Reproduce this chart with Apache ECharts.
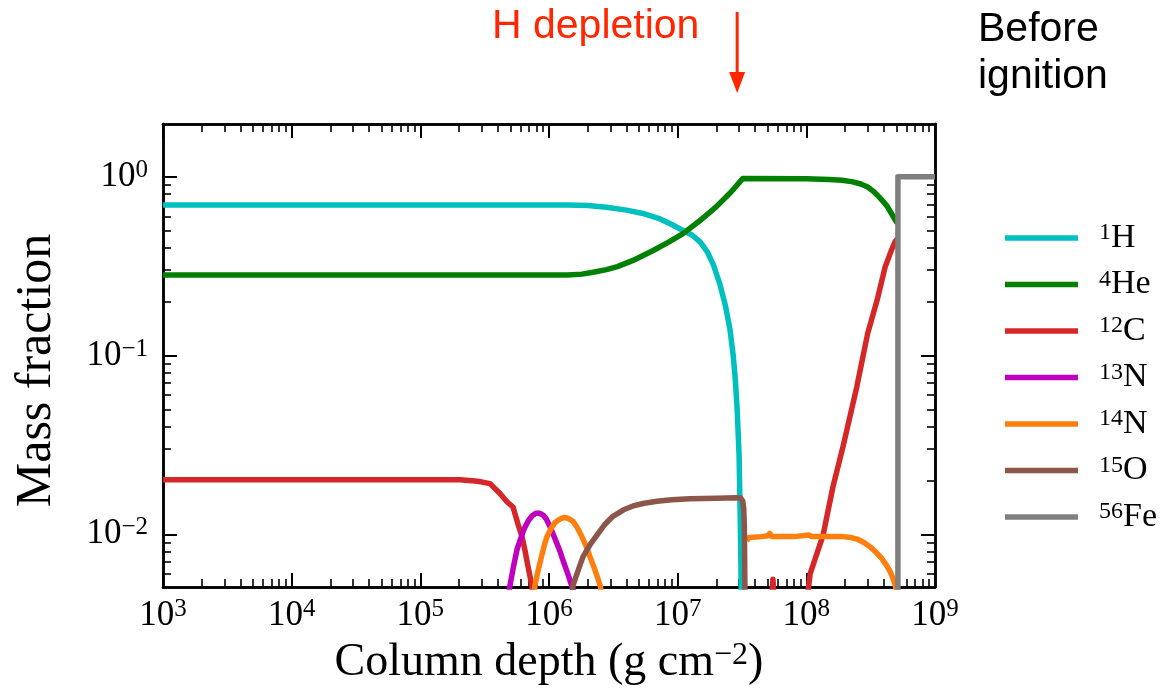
<!DOCTYPE html>
<html>
<head>
<meta charset="utf-8">
<script src="https://cdn.jsdelivr.net/npm/echarts@6/dist/echarts.min.js"></script>
<style>html,body{margin:0;padding:0;background:#fff;}#c{width:1175px;height:695px;}</style>
</head>
<body>
<div id="c"></div>
<script>
// ---------- data (column depth in g cm^-2, mass fraction) ----------
const X_MIN = 1e3, X_MAX = 1e9;
const Y_MIN = 0.00507, Y_MAX = 1.97;
const xTickExponents = [3, 4, 5, 6, 7, 8, 9];
const yTickExponents = [-2, -1, 0];

const speciesNames = ['H1', 'He4', 'C12', 'N13', 'N14', 'O15', 'Fe56'];
const speciesMass  = ['1', '4', '12', '13', '14', '15', '56'];
const speciesElem  = ['H', 'He', 'C', 'N', 'N', 'O', 'Fe'];

const H1 = [[1e3,0.695],[1.4e6,0.695],[2.0e6,0.69],[2.8e6,0.675],[4.0e6,0.65],[5.5e6,0.62],[7.3e6,0.58],
  [9e6,0.54],[1.1e7,0.50],[1.3e7,0.47],[1.5e7,0.43],[1.7e7,0.38],[1.9e7,0.32],[2.13e7,0.25],[2.35e7,0.19],
  [2.55e7,0.14],[2.7e7,0.1],[2.8e7,0.075],[2.9e7,0.05],[3.0e7,0.028],[3.05e7,0.015],[3.1e7,0.007],[3.13e7,0.004]];
const He4 = [[1e3,0.282],[1.4e6,0.282],[1.8e6,0.285],[2.2e6,0.292],[2.8e6,0.302],[3.4e6,0.314],[4.5e6,0.34],
  [6.4e6,0.385],[8.5e6,0.43],[1.1e7,0.48],[1.5e7,0.57],[2.0e7,0.68],[2.6e7,0.82],[3.2e7,0.975],
  [1.0e8,0.972],[1.5e8,0.965],[1.9e8,0.955],[2.3e8,0.935],[2.65e8,0.91],[3.0e8,0.875],[3.3e8,0.83],
  [3.55e8,0.79],[3.9e8,0.735],[4.26e8,0.68],[4.6e8,0.62],[4.9e8,0.573],[5.1e8,0.55]];
const C12 = [[1e3,0.0202],[2.04e5,0.0202],[2.8e5,0.0198],[3.48e5,0.0192],[4.16e5,0.0169],[4.71e5,0.0152],
  [5.25e5,0.0142],[5.74e5,0.0114],[6.17e5,0.0097],[6.51e5,0.0081],[6.87e5,0.0066],[7.38e5,0.0051],[7.6e5,0.004],
  [3e7,null],
  [5.35e7,0.004],[5.5e7,0.0056],[5.65e7,0.004],
  [7e7,null],
  [1.0e8,0.004],[1.07e8,0.006],[1.35e8,0.0099],[1.61e8,0.0184],[1.93e8,0.031],[2.47e8,0.067],
  [3.0e8,0.133],[3.55e8,0.204],[4.1e8,0.313],[4.6e8,0.39],[4.9e8,0.433],[5.1e8,0.45]];
const N13 = [[4.7e5,0.004],[4.98e5,0.0052],[5.3e5,0.0066],[5.64e5,0.0082],[6.0e5,0.0094],[6.4e5,0.0107],
  [6.9e5,0.0119],[7.4e5,0.0127],[7.9e5,0.0131],[8.5e5,0.0131],[9.0e5,0.0128],[9.5e5,0.0122],[1.02e6,0.011],
  [1.09e6,0.0098],[1.15e6,0.0089],[1.22e6,0.008],[1.28e6,0.0072],[1.4e6,0.006],[1.51e6,0.0051],[1.7e6,0.004]];
const N14 = [[7.5e5,0.004],[7.78e5,0.0052],[8.2e5,0.0062],[8.7e5,0.0074],[9.2e5,0.0087],[9.65e5,0.0097],
  [1.04e6,0.0108],[1.11e6,0.0116],[1.2e6,0.0121],[1.3e6,0.0124],[1.4e6,0.0123],[1.54e6,0.0118],[1.67e6,0.0108],
  [1.8e6,0.0097],[1.94e6,0.0086],[2.08e6,0.0075],[2.28e6,0.0063],[2.49e6,0.0052],[2.7e6,0.004],
  [1e7,null],
  [3.44e7,0.0092],[3.6e7,0.0096],[4.5e7,0.0097],[5.0e7,0.0098],[5.2e7,0.0101],[5.4e7,0.0097],[8e7,0.0097],
  [1.05e8,0.0099],[1.1e8,0.0097],[1.93e8,0.0097],[2.2e8,0.0096],[2.48e8,0.0094],[2.8e8,0.009],[3.13e8,0.0085],
  [3.5e8,0.0079],[3.87e8,0.0073],[4.2e8,0.0067],[4.47e8,0.0062],[4.7e8,0.0057],[4.9e8,0.0052],[5.1e8,0.0045]];
const O15 = [[1.45e6,0.004],[1.54e6,0.0052],[1.7e6,0.0064],[1.84e6,0.0075],[2.1e6,0.0088],[2.36e6,0.0099],
  [2.7e6,0.0113],[3.14e6,0.0126],[3.8e6,0.0137],[4.5e6,0.0144],[5.5e6,0.0149],[6.91e6,0.0153],[9e6,0.0156],
  [1.25e7,0.0158],[2e7,0.0159],[2.89e7,0.016],[3.1e7,0.0159],[3.2e7,0.0154],[3.26e7,0.014],[3.3e7,0.011],[3.34e7,0.004]];
const Fe56 = [[5.15e8,0.001],[5.15e8,1.0],[1e9,1.0]];

const seriesData = [H1, He4, C12, N13, N14, O15, Fe56];
const H_DEPLETION_DEPTH = 2.9e7;

// ---------- styling ----------
const colors = ['#00bfbf', '#008000', '#d62728', '#bf00bf', '#ff7f0e', '#8c564b', '#7f7f7f'];
const SERIF = '"Liberation Serif", "DejaVu Serif", serif';
const SANS = '"Liberation Sans", Arial, sans-serif';

function minorTicks(lo, hi, minVal, maxVal) {
  const out = [];
  for (let n = lo; n <= hi; n++) for (let k = 2; k <= 9; k++) {
    const v = n + Math.log10(k);
    if (v > minVal && v < maxVal) out.push(v);
  }
  return out;
}
const xLo = Math.log10(X_MIN), xHi = Math.log10(X_MAX);
const yLo = Math.log10(Y_MIN), yHi = Math.log10(Y_MAX);
const xMinor = minorTicks(3, 8, xLo, xHi);
const yMinor = minorTicks(-3, 0, yLo, yHi);

function expLabel(v) {
  const r = Math.round(v);
  const s = r < 0 ? '\u2212' + Math.abs(r) : String(r);
  return '{b|10}{s|' + s + '}';
}
const tickRich = {
  b: {fontFamily: SERIF, fontSize: 35, lineHeight: 38, color: '#000'},
  s: {fontFamily: SERIF, fontSize: 25, lineHeight: 14, verticalAlign: 'top', color: '#000'}
};

function helperAxis(dim, position, lo, hi, ticks, len, width, labels) {
  return {
    type: 'value', min: lo, max: hi, position: position, silent: true,
    axisLine: {show: true, onZero: false, lineStyle: {color: '#000', width: 2.5}},
    axisTick: {show: true, inside: true, length: len, customValues: ticks, lineStyle: {color: '#000', width: width}},
    axisLabel: labels ? {
      show: true, customValues: labels, formatter: expLabel, rich: tickRich,
      margin: dim === 'x' ? 10 : 15
    } : {show: false},
    splitLine: {show: false}
  };
}

const chart = echarts.init(document.getElementById('c'), null, {renderer: 'canvas'});

const option = {
  animation: false,
  backgroundColor: '#fff',
  grid: {left: 163, right: 240, top: 124, bottom: 108, containLabel: false},
  xAxis: [
    {type: 'log', logBase: 10, min: X_MIN, max: X_MAX, position: 'bottom',
     axisLine: {show: false, onZero: false}, axisTick: {show: false}, axisLabel: {show: false}, splitLine: {show: false},
     name: 'Column depth (g cm{s|\u22122})', nameLocation: 'middle', nameGap: 53,
     nameTextStyle: {fontFamily: SERIF, fontSize: 46, color: '#000', lineHeight: 46,
       rich: {s: {fontFamily: SERIF, fontSize: 32, lineHeight: 22, verticalAlign: 'top', color: '#000'}}}},
    helperAxis('x', 'bottom', xLo, xHi, xTickExponents, 14, 2, xTickExponents),
    helperAxis('x', 'top', xLo, xHi, xTickExponents, 14, 2, null),
    helperAxis('x', 'bottom', xLo, xHi, xMinor, 8, 1.6, null),
    helperAxis('x', 'top', xLo, xHi, xMinor, 8, 1.6, null)
  ],
  yAxis: [
    {type: 'log', logBase: 10, min: Y_MIN, max: Y_MAX, position: 'left',
     axisLine: {show: false, onZero: false}, axisTick: {show: false}, axisLabel: {show: false}, splitLine: {show: false},
     name: 'Mass fraction', nameLocation: 'middle', nameGap: 101,
     nameTextStyle: {fontFamily: SERIF, fontSize: 50, color: '#000', lineHeight: 50, padding: [0, 30, 0, 0]}},
    helperAxis('y', 'left', yLo, yHi, yTickExponents, 14, 2, yTickExponents),
    helperAxis('y', 'right', yLo, yHi, yTickExponents, 14, 2, null),
    helperAxis('y', 'left', yLo, yHi, yMinor, 8, 1.6, null),
    helperAxis('y', 'right', yLo, yHi, yMinor, 8, 1.6, null)
  ],
  legend: {
    orient: 'vertical', left: 1000, top: 216, itemWidth: 73, itemHeight: 5.5, itemGap: 12.5,
    icon: 'rect', selectedMode: false,
    data: speciesNames,
    formatter: function (name) {
      const i = speciesNames.indexOf(name);
      return '{p| }{s|' + speciesMass[i] + '}{b|' + speciesElem[i] + '}';
    },
    textStyle: {
      fontFamily: SERIF, fontSize: 34, color: '#000',
      rich: {
        p: {width: 16, fontSize: 34, lineHeight: 34},
        s: {fontFamily: SERIF, fontSize: 24, lineHeight: 12, verticalAlign: 'top', color: '#000'},
        b: {fontFamily: SERIF, fontSize: 34, lineHeight: 34, color: '#000'}
      }
    }
  },
  series: seriesData.map(function (d, i) {
    return {
      name: speciesNames[i], type: 'line', data: d, xAxisIndex: 0, yAxisIndex: 0,
      showSymbol: false, symbol: 'none', connectNulls: false, clip: true, z: 3,
      color: colors[i],
      lineStyle: {color: colors[i], width: 5.5, join: 'round', cap: 'butt'}
    };
  })
};
chart.setOption(option);

const ax = chart.convertToPixel({xAxisIndex: 0}, H_DEPLETION_DEPTH);
chart.setOption({
  graphic: [
    {type: 'text', x: 492, y: 27, silent: true,
     style: {text: 'H depletion', fill: '#ff2600', font: '41px ' + SANS, align: 'left', verticalAlign: 'middle'}},
    {type: 'line', silent: true, shape: {x1: ax, y1: 12, x2: ax, y2: 78},
     style: {stroke: '#ff2600', lineWidth: 3}},
    {type: 'polygon', silent: true, shape: {points: [[ax - 8, 72], [ax + 8, 72], [ax, 93]]},
     style: {fill: '#ff2600'}},
    {type: 'text', x: 978, y: 30, silent: true,
     style: {text: 'Before', fill: '#000', font: '41px ' + SANS, align: 'left', verticalAlign: 'middle'}},
    {type: 'text', x: 978, y: 77, silent: true,
     style: {text: 'ignition', fill: '#000', font: '41px ' + SANS, align: 'left', verticalAlign: 'middle'}}
  ]
});
</script>
</body>
</html>
